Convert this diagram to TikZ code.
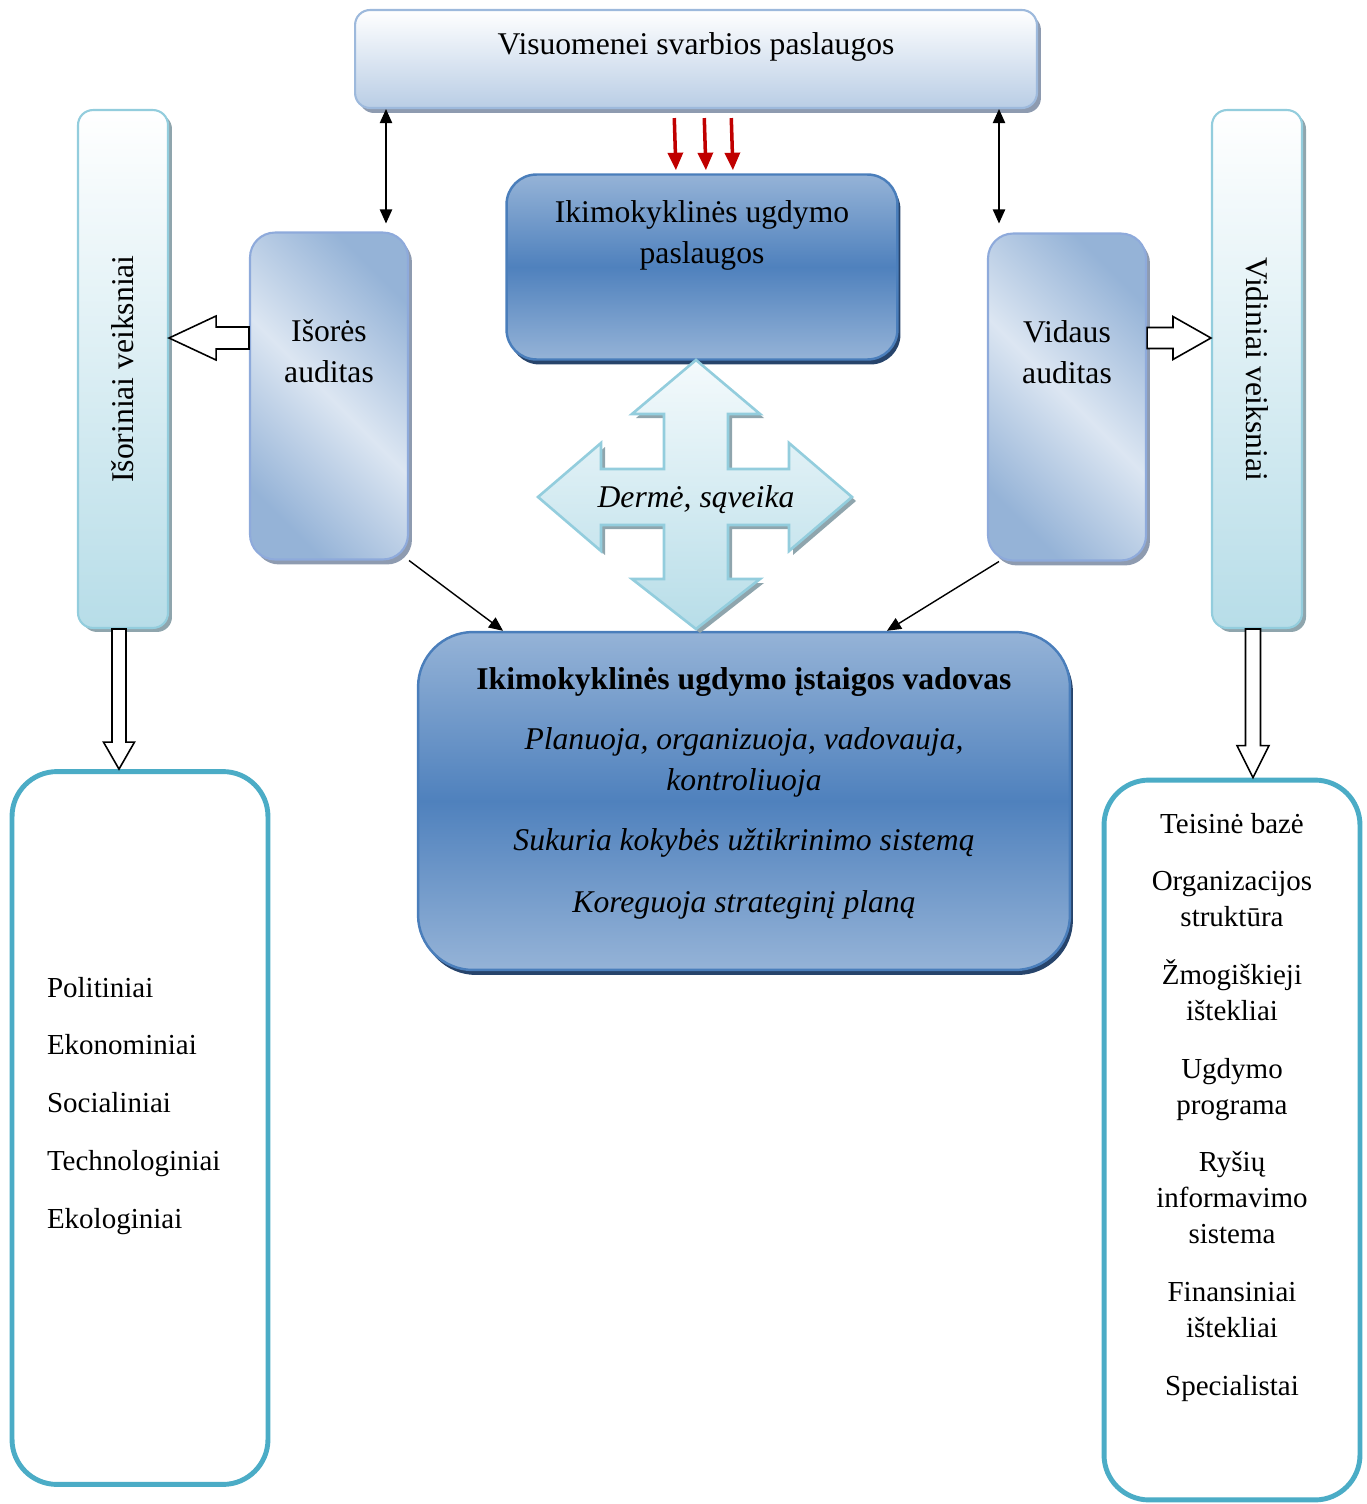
\documentclass[tikz,border=0pt]{standalone}
\usepackage{fontspec}
\setmainfont{Liberation Serif}
\usepackage{graphicx}
\usetikzlibrary{arrows.meta,shadows,calc}

\definecolor{topbottom}{HTML}{B9CDE5}
\definecolor{topline}{HTML}{9DB9DC}
\definecolor{greyshadow}{HTML}{8E9BB0}
\definecolor{darktop}{HTML}{95B3D7}
\definecolor{darkmid}{HTML}{4F81BD}
\definecolor{darkline}{HTML}{4A7EBB}
\definecolor{darkshadow}{HTML}{27446B}
\definecolor{auditdark}{HTML}{95B3D7}
\definecolor{auditlight}{HTML}{DCE6F2}
\definecolor{auditline}{HTML}{8EAADB}
\definecolor{sidebottom}{HTML}{B7DDE8}
\definecolor{sideline}{HTML}{93CDDD}
\definecolor{sideshadow}{HTML}{8FA5AD}
\definecolor{crosstop}{HTML}{F4FAFC}
\definecolor{listline}{HTML}{4BACC6}
\definecolor{arrowred}{HTML}{C00000}

\begin{document}
\begin{tikzpicture}[
    x=0.02cm, y=-0.02cm,
    font=\fontsize{18}{23}\selectfont,
    arrow/.style={line width=0.8pt, >={Triangle[length=8pt, width=7pt]}},
    redarrow/.style={->, line width=2pt, draw=arrowred, >={Triangle[length=10pt, width=8.5pt]}},
    hollow/.style={draw, fill=white, line width=0.9pt, line join=miter},
    topbox/.style={draw=topline, line width=1.2pt, rounded corners=0.3cm, top color=white, bottom color=topbottom,
        minimum width=13.64cm, minimum height=1.96cm, align=center,
        drop shadow={shadow xshift=0.08cm, shadow yshift=-0.1cm, fill=greyshadow, opacity=1}},
    darkbox/.style={draw=darkline, line width=1.4pt, top color=darktop, bottom color=darktop, middle color=darkmid, align=center,
        drop shadow={shadow xshift=0.06cm, shadow yshift=-0.1cm, fill=darkshadow, opacity=1}},
    auditbox/.style={draw=auditline, line width=1.2pt, rounded corners=0.5cm, top color=auditdark, bottom color=auditdark,
        middle color=auditlight, shading angle=-45, minimum width=3.16cm, minimum height=6.54cm, align=center, text depth=1.8cm,
        drop shadow={shadow xshift=0.08cm, shadow yshift=-0.1cm, fill=greyshadow, opacity=1}},
    sidebox/.style={draw=sideline, line width=1.2pt, rounded corners=0.3cm, top color=white, bottom color=sidebottom,
        minimum width=1.8cm, minimum height=10.36cm,
        drop shadow={shadow xshift=0.08cm, shadow yshift=-0.08cm, fill=sideshadow, opacity=1}},
    crossarrow/.style={draw=sideline, line width=1.5pt, line join=miter, top color=crosstop, bottom color=sidebottom,
        drop shadow={shadow xshift=0.08cm, shadow yshift=-0.08cm, fill=sideshadow, opacity=1}},
    listbox/.style={draw=listline, line width=2.8pt, fill=white, rounded corners=0.9cm, minimum width=5.12cm,
        font=\fontsize{16.5}{20.4}\selectfont}
]
    \useasboundingbox (0,0) rectangle (1366,1504);

    \node[topbox, text depth=0.6cm] (vsp) at (696,59) {Visuomenei svarbios paslaugos};
    \node[darkbox, minimum width=7.82cm, minimum height=3.7cm, rounded corners=0.6cm, text depth=1.4cm] (kids) at (702,267)
        {Ikimokyklinės ugdymo\\paslaugos};
    \node[auditbox] (isores) at (329,396) {Išorės\\auditas};
    \node[auditbox] (vidaus) at (1067,397) {Vidaus\\auditas};
    \node[sidebox] (isorinis) at (123,369) {\rotatebox{90}{Išoriniai veiksniai}};
    \node[sidebox] (vidinis) at (1257,369) {\rotatebox{-90}{Vidiniai veiksniai}};
    \node[darkbox, minimum width=13.04cm, minimum height=6.76cm, rounded corners=1.1cm, text depth=0.43cm] (vadovas) at (744,801)
        {\textbf{Ikimokyklinės ugdymo įstaigos vadovas}\\[11.3pt]
         \textit{Planuoja, organizuoja, vadovauja,}\\
         \textit{kontroliuoja}\\[11.3pt]
         \textit{Sukuria kokybės užtikrinimo sistemą}\\[12.5pt]
         \textit{Koreguoja strateginį planą}};
    \node[listbox, minimum height=14.26cm, text width=3.72cm, align=left, text depth=5.64cm] (isorlist) at (140,1128)
        {Politiniai\\[12.5pt]Ekonominiai\\[12.5pt]Socialiniai\\[12.5pt]Technologiniai\\[12.5pt]Ekologiniai};
    \node[listbox, minimum height=14.4cm, align=center, text depth=1.44cm] (vidlist) at (1232,1140)
        {Teisinė bazė\\[12.5pt]Organizacijos\\struktūra\\[12.5pt]Žmogiškieji\\ištekliai\\[12.5pt]Ugdymo\\programa\\[12.5pt]%
         Ryšių\\informavimo\\sistema\\[12.5pt]Finansiniai\\ištekliai\\[12.5pt]Specialistai};

    \coordinate (mid) at (696,497);
    \draw[crossarrow, shift={(mid)}] (0,-137) -- (64,-83) -- (32,-83) -- (32,-28) -- (93,-28) -- (93,-54) -- (156,0)
        -- (93,54) -- (93,28) -- (32,28) -- (32,82) -- (64,82) -- (0,132) -- (-64,82) -- (-32,82) -- (-32,28)
        -- (-95,28) -- (-95,54) -- (-158,0) -- (-95,-54) -- (-95,-28) -- (-32,-28) -- (-32,-83) -- (-64,-83) -- cycle;
    \node[font=\fontsize{18}{23}\selectfont\itshape] (derme) at (696,500) {Dermė, sąveika};

    \draw[arrow, <->, shorten >=0.16cm] (vsp.south -| 386,0) -- (isores.north -| 386,0);
    \draw[arrow, <->, shorten >=0.18cm] (vsp.south -| 999,0) -- (vidaus.north -| 999,0);
    \foreach \a/\b in {674/676, 704/706, 731/733}
        \draw[redarrow, shorten <=0.18cm, shorten >=0.06cm] (vsp.south -| \a,0) -- (kids.north -| \b,0);

    \draw[arrow, ->] (isores.south east) -- ([xshift=-4.82cm]vadovas.north);
    \draw[arrow, ->] ([xshift=0.24cm]vidaus.south west) -- ([xshift=2.86cm]vadovas.north);

    \coordinate (lt) at (isorinis.east |- 0,338);
    \coordinate (lb) at (isores.west |- 0,338);
    \draw[hollow] (lt) -- ++(47,-22) -- ++(0,11) -- ($(lb)+(0,-11)$) -- ($(lb)+(0,11)$) -- ($(lt)+(47,11)$) -- ++(0,11) -- cycle;

    \coordinate (rt) at (vidinis.west |- 0,338);
    \coordinate (rb) at (vidaus.east |- 0,338);
    \draw[hollow] (rt) -- ++(-38,-21.5) -- ++(0,11) -- ($(rb)+(0,-10.5)$) -- ($(rb)+(0,10.5)$) -- ($(rt)+(-38,10.5)$) -- ++(0,11) -- cycle;

    \coordinate (dlt) at (isorlist.north -| 119,0);
    \coordinate (dlb) at (isorinis.south -| 119,0);
    \draw[hollow] (dlt) -- ++(-15.5,-27) -- ++(8.5,0) -- ($(dlb)+(-7,0)$) -- ($(dlb)+(7,0)$) -- ($(dlt)+(7,-27)$) -- ++(8.5,0) -- cycle;

    \coordinate (drt) at (vidlist.north -| 1253,0);
    \coordinate (drb) at (vidinis.south -| 1253,0);
    \draw[hollow] (drt) -- ++(-16,-32) -- ++(8.5,0) -- ($(drb)+(-7.5,0)$) -- ($(drb)+(7.5,0)$) -- ($(drt)+(7.5,-32)$) -- ++(8.5,0) -- cycle;
\end{tikzpicture}
\end{document}
